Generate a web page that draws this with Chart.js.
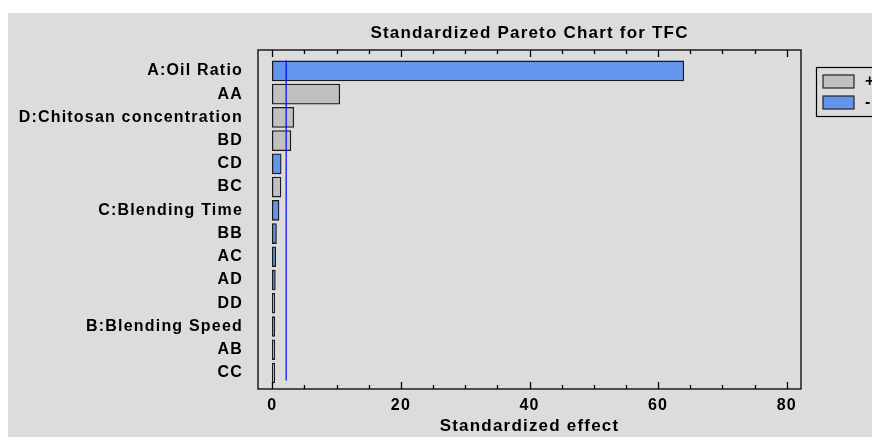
<!DOCTYPE html>
<html>
<head>
<meta charset="utf-8">
<title>Standardized Pareto Chart for TFC</title>
<script src="https://cdn.jsdelivr.net/npm/chart.js@4.4.1/dist/chart.umd.min.js"></script>
<style>
  html, body { margin: 0; padding: 0; background: #ffffff; }
  #wrap { position: absolute; left: 8px; top: 13px; width: 864px; height: 424px; background: #dcdcdc; }
</style>
</head>
<body>
<div id="wrap"><canvas id="paretoChart" width="864" height="424"></canvas></div>
<script>
// effects, in pareto order (top to bottom)
const categories = ['A:Oil Ratio', 'AA', 'D:Chitosan concentration', 'BD', 'CD', 'BC',
  'C:Blending Time', 'BB', 'AC', 'AD', 'DD', 'B:Blending Speed', 'AB', 'CC']
const effects = [64.0, 10.5, 3.35, 2.9, 1.38, 1.35, 1.05, 0.65, 0.55, 0.48, 0.24, 0.22, 0.2, 0.03]
const signs = ['-', '+', '+', '+', '-', '+', '-', '-', '-', '-', '+', '-', '+', '+']
const xTicks = [0, 20, 40, 60, 80]
const critValue = 2.16

const fontName = "'Liberation Sans', Arial, sans-serif"
const grayFill = '#c0c0c0'
const blueFill = '#6495ed'
const spacing = '1.2px'

function seriesFor(sign) {
  const out = []
  effects.forEach((v, i) => { if (signs[i] === sign) out.push({ x: v, y: i }) })
  return out
}

/* the old statgraphics look has wide letter spacing */
const letterSpacing = {
  id: 'letterSpacing',
  beforeLayout(chart) { chart.ctx.letterSpacing = spacing },
  beforeDraw(chart) { chart.ctx.letterSpacing = spacing }
}

/* frame, inward ticks, critical line, legend */
const decorations = {
  id: 'decorations',
  afterDatasetsDraw(chart) {
    const ctx = chart.ctx
    const area = chart.chartArea
    const xs = chart.scales.x
    const ys = chart.scales.y
    ctx.save()

    // critical value line
    const cx = xs.getPixelForValue(critValue)
    ctx.strokeStyle = '#0000ff'
    ctx.lineWidth = 1.2
    ctx.beginPath()
    ctx.moveTo(cx, ys.getPixelForValue(-0.45))
    ctx.lineTo(cx, ys.getPixelForValue(13.32))
    ctx.stroke()

    // frame
    ctx.strokeStyle = '#000'
    ctx.lineWidth = 1.3
    ctx.strokeRect(area.left, area.top, area.right - area.left, area.bottom - area.top)

    // ticks every 5 units, long ones at labels
    for (let v = 0; v <= 80; v += 5) {
      const px = Math.round(xs.getPixelForValue(v)) + 0.5
      const len = xTicks.includes(v) ? 7 : 4
      ctx.beginPath()
      ctx.moveTo(px, area.bottom)
      ctx.lineTo(px, area.bottom - len)
      ctx.moveTo(px, area.top)
      ctx.lineTo(px, area.top + len)
      ctx.stroke()
    }

    // legend
    const lx = area.right + 15
    const ly = area.top + 17
    ctx.fillStyle = '#dcdcdc'
    ctx.fillRect(lx, ly, 80, 49)
    ctx.strokeStyle = '#000'
    ctx.lineWidth = 1.2
    ctx.strokeRect(lx + 0.5, ly + 0.5, 80, 49)
    chart.data.datasets.forEach((ds, i) => {
      const sy = ly + 8 + i * 21
      ctx.fillStyle = ds.backgroundColor
      ctx.fillRect(lx + 7, sy, 31, 13)
      ctx.strokeStyle = '#222'
      ctx.lineWidth = 1.2
      ctx.strokeRect(lx + 7, sy, 31, 13)
      ctx.fillStyle = '#000'
      ctx.font = 'bold 16px ' + fontName
      ctx.textBaseline = 'middle'
      ctx.fillText(ds.label, lx + 49, sy + 7)
    })
    ctx.restore()
  }
}

new Chart(document.getElementById('paretoChart'), {
  type: 'bar',
  data: {
    datasets: [{
      label: '+',
      data: seriesFor('+'),
      backgroundColor: grayFill,
      borderColor: '#1a1a1a',
      borderWidth: 1.3,
      borderSkipped: false,
      barThickness: 20,
      minBarLength: 2.5,
      grouped: false
    }, {
      label: '-',
      data: seriesFor('-'),
      backgroundColor: blueFill,
      borderColor: '#1a1a1a',
      borderWidth: 1.3,
      borderSkipped: false,
      barThickness: 20,
      minBarLength: 2.5,
      grouped: false
    }]
  },
  options: {
    indexAxis: 'y',
    responsive: false,
    animation: false,
    devicePixelRatio: 1,
    layout: { padding: { left: 0, right: 71, top: 0, bottom: 0 } },
    plugins: {
      legend: { display: false },
      tooltip: { enabled: false },
      title: {
        display: true,
        fullSize: false,
        text: 'Standardized Pareto Chart for TFC',
        color: '#000',
        font: { family: fontName, size: 17, weight: 'bold' },
        padding: { top: 10, bottom: 6.6 }
      }
    },
    scales: {
      x: {
        type: 'linear',
        min: -2.22,
        max: 82.22,
        afterBuildTicks: (s) => { s.ticks = xTicks.map(v => ({ value: v })) },
        afterFit: (s) => { s.height = 48 },
        grid: { display: false, drawTicks: false },
        border: { display: false },
        ticks: {
          color: '#000',
          padding: 7,
          maxRotation: 0,
          font: { family: fontName, size: 16, weight: 'bold' }
        },
        title: {
          display: true,
          text: 'Standardized effect',
          color: '#000',
          padding: 0,
          font: { family: fontName, size: 17, weight: 'bold' }
        }
      },
      y: {
        type: 'linear',
        reverse: true,
        offset: false,
        min: -0.9,
        max: 13.69,
        afterBuildTicks: (s) => { s.ticks = categories.map((c, i) => ({ value: i })) },
        afterFit: (s) => { s.width = 250 },
        grid: { display: false, drawTicks: false, offset: false },
        border: { display: false },
        ticks: {
          autoSkip: false,
          color: '#000',
          padding: 15,
          font: { family: fontName, size: 16, weight: 'bold' },
          callback: (v) => categories[v]
        }
      }
    }
  },
  plugins: [letterSpacing, decorations]
})
</script>
</body>
</html>
